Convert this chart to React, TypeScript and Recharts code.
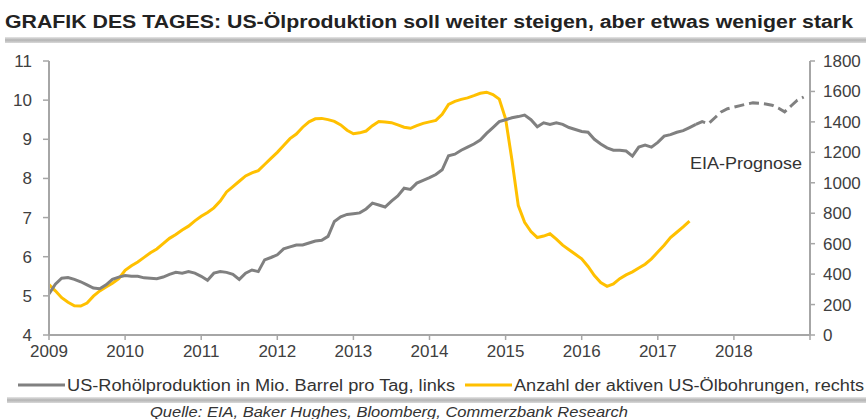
import React from 'react';
import { LineChart, Line, XAxis, YAxis } from 'recharts';

const startYear = 2009;
const yearTicks = [2009, 2010, 2011, 2012, 2013, 2014, 2015, 2016, 2017, 2018, 2019];
const leftTicks = [4, 5, 6, 7, 8, 9, 10, 11];
const rightTicks = [0, 200, 400, 600, 800, 1000, 1200, 1400, 1600, 1800];

// US crude oil production, mn barrels/day, monthly from Jan 2009 (actual)
const productionActual = [
  5.05, 5.30, 5.45, 5.47, 5.42, 5.36, 5.28, 5.20, 5.18, 5.28,
  5.42, 5.48, 5.52, 5.50, 5.50, 5.46, 5.45, 5.44, 5.48, 5.55,
  5.60, 5.58, 5.62, 5.58, 5.50, 5.40, 5.58, 5.62, 5.60, 5.55,
  5.42, 5.58, 5.66, 5.62, 5.92, 5.98, 6.05, 6.20, 6.25, 6.30,
  6.30, 6.35, 6.40, 6.42, 6.52, 6.90, 7.02, 7.08, 7.10, 7.12,
  7.22, 7.37, 7.32, 7.27, 7.42, 7.55, 7.75, 7.72, 7.88, 7.95,
  8.02, 8.10, 8.22, 8.58, 8.62, 8.72, 8.80, 8.88, 8.98, 9.15,
  9.30, 9.45, 9.50, 9.55, 9.58, 9.62, 9.50, 9.32, 9.42, 9.38,
  9.42, 9.38, 9.30, 9.25, 9.20, 9.18, 9.00, 8.88, 8.78, 8.72,
  8.72, 8.70, 8.57, 8.80, 8.85, 8.80, 8.92, 9.08, 9.12, 9.18,
  9.22, 9.30, 9.38,
];
// EIA forecast, monthly continuing from the last actual month
const forecastStartMonth = 102;
const productionForecast = [
  9.38, 9.45, 9.40, 9.55, 9.70, 9.78, 9.82, 9.86, 9.90, 9.93,
  9.92, 9.90, 9.87, 9.80, 9.70, 9.85, 10.00, 10.08,
];
// Active US oil rigs, monthly from Jan 2009
const rigCount = [
  331, 290, 245, 215, 192, 190, 210, 255, 290, 315,
  340, 370, 425, 455, 480, 510, 540, 565, 600, 635,
  660, 690, 715, 750, 780, 805, 835, 880, 940, 975,
  1010, 1045, 1065, 1080, 1120, 1160, 1200, 1245, 1290, 1320,
  1365, 1400, 1420, 1423, 1415, 1403, 1380, 1345, 1322, 1328,
  1340, 1375, 1403, 1400, 1395, 1380, 1365, 1358, 1375, 1390,
  1400, 1410, 1450, 1515, 1535, 1548, 1558, 1572, 1588, 1595,
  1580, 1550, 1420, 1150, 850, 740, 680, 640, 650, 665,
  630, 590, 560, 530, 500, 450, 390, 345, 320, 335,
  370, 395, 415, 440, 465, 500, 545, 590, 640, 675,
  710, 748,
];

const titleText = 'GRAFIK DES TAGES: US-Ölproduktion soll weiter steigen, aber etwas weniger stark';
const legendProd = 'US-Rohölproduktion in Mio. Barrel pro Tag, links';
const legendRigs = 'Anzahl der aktiven US-Ölbohrungen, rechts';
const sourceText = 'Quelle: EIA, Baker Hughes, Bloomberg, Commerzbank Research';
const forecastLabel = 'EIA-Prognose';

const totalMonths = forecastStartMonth + productionForecast.length;
const data = Array.from({ length: totalMonths }, (_, m) => ({
  t: startYear + m / 12,
  prod: m < productionActual.length ? productionActual[m] : null,
  fc: m >= forecastStartMonth ? productionForecast[m - forecastStartMonth] : null,
  rigs: m < rigCount.length ? rigCount[m] : null,
}));

const GRAY = '#808080';
const YELLOW = '#FFC000';
const AXIS = '#a6a6a6';
const FONT = '"Liberation Sans", Arial, sans-serif';
const tickStyle = { fontSize: 17, fill: '#404040', fontFamily: FONT };

export default function App() {
  return (
    <div style={{ position: 'absolute', left: 0, top: 0, width: 866, height: 419, background: '#fff', overflow: 'hidden' }}>
      <svg width={866} height={419} style={{ position: 'absolute', left: 0, top: 0 }}>
        <defs>
          <linearGradient id="bar" x1="0" y1="0" x2="0" y2="1">
            <stop offset="0" stopColor="#e6e6e6" />
            <stop offset="0.5" stopColor="#b3b3b3" />
            <stop offset="1" stopColor="#d9d9d9" />
          </linearGradient>
        </defs>
        <text x={5} y={28} fontFamily={FONT} fontWeight="bold" fontSize={18} fill="#222"
          textLength={848} lengthAdjust="spacingAndGlyphs">{titleText}</text>
        <rect x={5} y={37} width={861} height={6} fill="url(#bar)" />
        <line x1={18} y1={385} x2={65} y2={385} stroke={GRAY} strokeWidth={3} />
        <text x={67} y={391} fontFamily={FONT} fontSize={16} fill="#333"
          textLength={388} lengthAdjust="spacingAndGlyphs">{legendProd}</text>
        <line x1={465} y1={385} x2={512} y2={385} stroke={YELLOW} strokeWidth={3} />
        <text x={514} y={391} fontFamily={FONT} fontSize={16} fill="#333"
          textLength={350} lengthAdjust="spacingAndGlyphs">{legendRigs}</text>
        <rect x={7} y={397} width={859} height={6} fill="url(#bar)" />
        <text x={150} y={417} fontFamily={FONT} fontStyle="italic" fontSize={14} fill="#333"
          textLength={478} lengthAdjust="spacingAndGlyphs">{sourceText}</text>
      </svg>
      <div style={{ position: 'absolute', left: 0, top: 0 }}>
        <LineChart width={866} height={419} data={data} margin={{ top: 61, right: 0, bottom: 54, left: 0 }}>
          <XAxis dataKey="t" type="number" domain={[2009, 2019]} ticks={yearTicks}
            tickFormatter={(v: number) => (v === 2019 ? '' : String(v))}
            height={30} tickSize={5} tickMargin={5} interval={0}
            axisLine={{ stroke: AXIS, strokeWidth: 2 }} tickLine={{ stroke: AXIS, strokeWidth: 1.5 }}
            tick={tickStyle} allowDataOverflow />
          <YAxis yAxisId="left" orientation="left" domain={[4, 11]} ticks={leftTicks} width={49}
            tickSize={6} tickMargin={11} interval={0}
            axisLine={{ stroke: AXIS, strokeWidth: 2 }} tickLine={{ stroke: AXIS, strokeWidth: 1.5 }}
            tick={tickStyle} />
          <YAxis yAxisId="right" orientation="right" domain={[0, 1800]} ticks={rightTicks} width={56}
            tickSize={5} tickMargin={8} interval={0}
            axisLine={{ stroke: AXIS, strokeWidth: 2 }} tickLine={{ stroke: AXIS, strokeWidth: 1.5 }}
            tick={tickStyle} />
          <Line yAxisId="right" dataKey="rigs" stroke={YELLOW} strokeWidth={3} dot={false}
            isAnimationActive={false} type="linear" />
          <Line yAxisId="left" dataKey="prod" stroke={GRAY} strokeWidth={3} dot={false}
            isAnimationActive={false} type="linear" />
          <Line yAxisId="left" dataKey="fc" stroke={GRAY} strokeWidth={3} dot={false}
            strokeDasharray="10 5" isAnimationActive={false} type="linear" />
        </LineChart>
      </div>
      <svg width={866} height={419} style={{ position: 'absolute', left: 0, top: 0, pointerEvents: 'none' }}>
        <text x={690} y={169} fontFamily={FONT} fontSize={17} fill="#333"
          textLength={112} lengthAdjust="spacingAndGlyphs">{forecastLabel}</text>
      </svg>
    </div>
  );
}
